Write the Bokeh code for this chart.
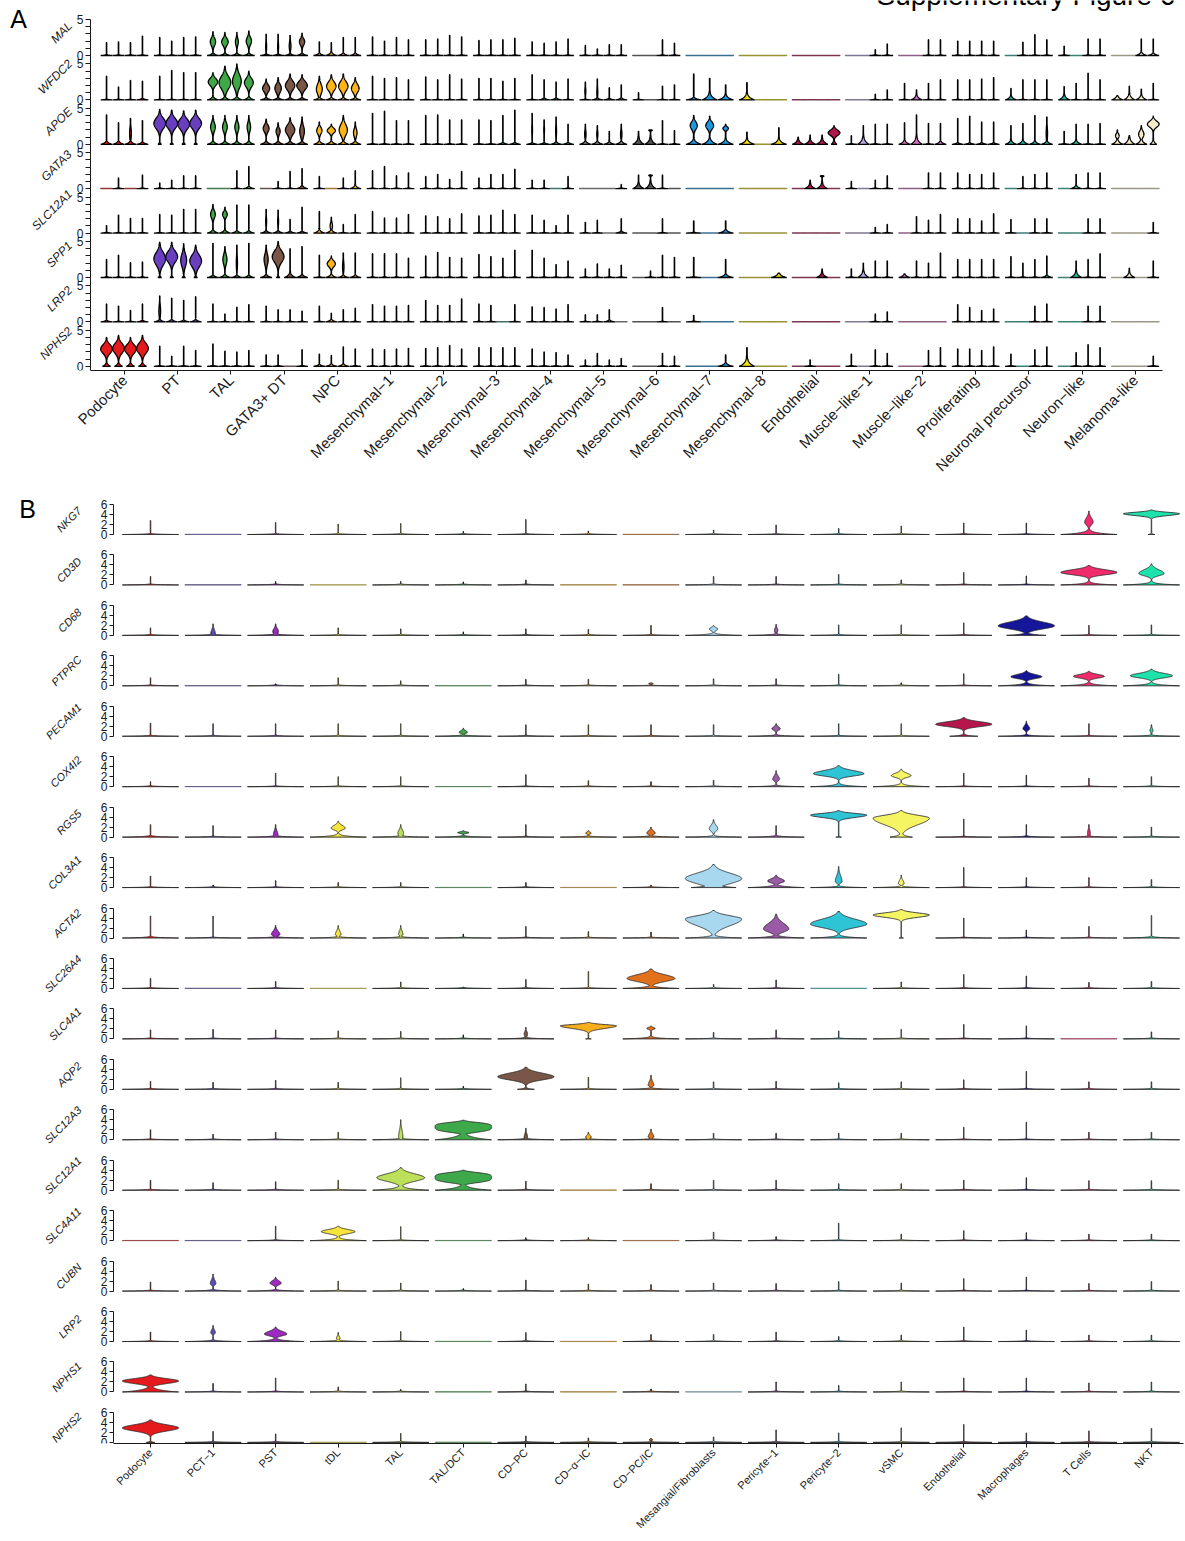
import math
import numpy as np
from bokeh.plotting import figure
from bokeh.layouts import column
from bokeh.models import Range1d, FixedTicker, Label, ColumnDataSource
from bokeh.embed import file_html
from bokeh.resources import INLINE

FONT = "Liberation Sans"
INK = "#1a1a1a"

# ---------------------------------------------------------------------------
# Violin specs: a number is the maximum of a needle-shaped violin (0 = all zero);
# a tuple is (max, body centre, body width, base width, base height,
#             lower spread of body, body exponent)
# ---------------------------------------------------------------------------

# ---------------- Panel A: clusters, one violin per sample ----------------
A_CLUSTERS = ["Podocyte", "PT", "TAL", "GATA3+ DT", "NPC",
              "Mesenchymal\u22121", "Mesenchymal\u22122", "Mesenchymal\u22123",
              "Mesenchymal\u22124", "Mesenchymal\u22125", "Mesenchymal\u22126",
              "Mesenchymal\u22127", "Mesenchymal\u22128", "Endothelial",
              "Muscle\u2212like\u22121", "Muscle\u2212like\u22122", "Proliferating",
              "Neuronal precursor", "Neuron\u2212like", "Melanoma-like"]
A_COLORS = ["#E41A1C", "#6A3FBF", "#3FA846", "#7A5646", "#FDB515",
            "#3B4F86", "#4E5F7A", "#3F8C94", "#2A9D8F", "#8A8A8A",
            "#555555", "#1C98E0", "#F0E010", "#B0174C",
            "#BBA6E2", "#D46FC5", "#5F8A8A", "#23B5A5", "#1FBF9A", "#F6ECC8"]
A_GENES = ["MAL", "WFDC2", "APOE", "GATA3", "SLC12A1", "SPP1", "LRP2", "NPHS2"]

A_MAL = [
    [1.8, 1.9, 1.8, 2.7],
    [2.5, 2.0, 2.5, 2.6],
    [(3.3, 1.9, .45, 1, .15), (3.2, 1.9, .55, 1, .15), (3.2, 1.9, .25, 1, .15), (3.4, 2.0, .45, 1, .15)],
    [(2.95, 1.2, .08, 1, .1), (2.95, 1.2, .08, 1, .1), (2.8, 1.3, .15, 1, .12), (3.1, 1.9, .45, 1, .15)],
    [(1.9, 0, 0, 1, .15), (1.8, 0, 0, 1, .2), (2.5, 0, 0, 1, .15), (2.5, 0, 0, 1, .15)],
    [2.6, 2.0, 2.5, 2.2],
    [2.2, 2.3, 2.8, 2.6],
    [2.1, 2.2, 2.2, 2.4],
    [1.9, 1.7, 1.9, 2.3],
    [1.4, 0.9, 1.5, 1.5],
    [0, 0, 2.2, 1.7],
    [0, 0, 0],
    [0, 0, 0],
    [0, 0, 0, 0],
    [0, 0, 0.8, 1.6],
    [0, 0, 2.2, 2.2],
    [2.0, 2.0, 2.0, 2.0],
    [0, 1.85, 2.9, 2.2],
    [1.3, 0, 2.3, 2.3],
    [0, 0, (2.3, 0, 0, 1, .2), (2.3, 0, 0, 1, .15)],
]
A_WFDC2 = [
    [3.3, 1.8, 2.7, (2.6, 0, 0, 1, .1)],
    [3.3, 4.1, 3.8, 3.8],
    [(3.8, 2.5, .8, 1, .2), (4.7, 2.4, 1, 1, .2), (5.0, 2.6, .75, 1, .2), (4.0, 2.4, .75, 1, .2)],
    [(2.9, 1.6, .6, 1, .15), (3.1, 1.6, .55, 1, .15), (3.6, 2.0, .8, 1, .15), (3.5, 2.0, .9, 1, .15)],
    [(3.3, 1.5, .5, 1, .15), (3.5, 1.9, .8, 1, .15), (3.6, 1.9, .8, 1, .15), (3.1, 1.6, .65, 1, .15)],
    [3.3, 3.0, 3.1, 2.8],
    [3.2, 2.8, 3.5, 2.9],
    [3.0, 3.0, 2.6, 3.0],
    [3.5, (2.8, 0, 0, 1, .12), (2.5, 0, 0, 1, .12), 2.9],
    [(2.5, 1.2, .08), (2.9, 1.0, .08, 1, .12), (1.7, 0, 0, 1, .1), (2.1, 0, 0, 1, .12)],
    [1.0, 0, 1.9, 2.1],
    [(3.6, 0, 0, 1, .15), (3.0, 0, 0, 1, .4), (2.1, 0, 0, 1, .3)],
    [(2.4, 0, 0, 1, .35), 0, 0],
    [0, 0, 0, 0],
    [0, 0, 0.8, 1.4],
    [2.3, (1.4, 0, 0, 1, .3), 2.3, 2.8],
    [2.8, 2.8, 2.9, 3.1],
    [(1.6, 0, 0, 1, .25), 2.8, 2.8, 2.8],
    [(1.85, 0, 0, 1, .3), 2.3, 3.7, 2.8],
    [(0.6, 0, 0, 1, .25), (1.9, 0, 0, 1, .35), (1.5, 0, 0, 1, .3), 2.3],
]
A_APOE = [
    [(4.1, 0, 0, 1, .2), (3.0, 0, 0, 1, .2), (3.6, 1.5, .15, 1, .2), (3.3, 0, 0, 1, .15)],
    [(4.85, 2.9, 1, .3, .2), (4.75, 2.9, 1, .3, .2), (4.65, 2.8, 1, .3, .2), (4.75, 2.9, 1, .3, .2)],
    [(4.0, 2.4, .4, 1, .2), (4.0, 2.4, .4, 1, .2), (4.0, 2.4, .35, 1, .2), (4.0, 2.4, .3, 1, .2)],
    [(3.5, 2.2, .5, 1, .2), (3.0, 1.8, .35, 1, .2), (3.7, 2.0, .8, 1, .2), (3.8, 1.8, .4, 1, .2)],
    [(3.1, 1.9, .45, 1, .2), (2.8, 1.9, .7, 1, .2), (4.0, 2.0, .7, 1, .2), (3.1, 1.6, .3, 1, .2)],
    [4.3, 4.6, 3.3, 3.3],
    [4.0, 4.1, 3.4, 3.4],
    [3.4, 3.3, (4.0, 0, 0, 1, .12), (4.75, 0, 0, 1, .12)],
    [(4.3, 2.0, .06, 1, .1), (3.4, 2.0, .06, 1, .1), (3.8, 1.8, .08, 1, .15), (2.8, 0, 0, 1, .12)],
    [(2.8, 1.4, .12, 1, .2), (2.6, 1.4, .1, 1, .2), (1.8, 0, 0, 1, .15), (2.8, 1.4, .12, 1, .2)],
    [(1.8, 0, 0, 1, .4), (2.0, 1.95, .3, 1, .4, .08), 3.3, 1.9],
    [(4.0, 2.6, .45, 1, .3), (3.9, 2.6, .5, 1, .35), (2.8, 2.2, .35, 1, .3)],
    [(1.7, 0, 0, 1, .3), 0, (2.3, 0, 0, 1, .3)],
    [(1.0, 0, 0, 1, .3), (1.3, 0, 0, 1, .3), (1.3, 0, 0, 1, .35), (2.6, 1.6, 1, .5, .3)],
    [1.2, (2.6, 0, 0, 1, .45), 2.8, 2.8],
    [(3.0, 0, 0, 1, .25), (4.1, 0, 0, 1, .45), 2.9, (2.9, 0, 0, 1, .2)],
    [(3.6, 0, 0, 1, .1), (3.9, 0, 0, 1, .1), (3.1, 0, 0, 1, .1), (3.1, 0, 0, 1, .1)],
    [(2.6, 0, 0, 1, .25), (2.9, 0, 0, 1, .25), (4.0, 0, 0, 1, .2), (3.8, 1.5, .12, 1, .2)],
    [1.8, (2.8, 0, 0, 1, .25), 2.8, 2.9],
    [(2.0, 1.2, .3, 1, .3), (1.2, 0, 0, 1, .4), (2.6, 1.4, .45, 1, .3), (3.9, 2.8, 1, .6, .3)],
]
A_GATA3 = [
    [0, 1.5, 0, 1.9],
    [0.8, 1.2, 1.8, 1.8],
    [0, 0, 2.5, (3.1, 0, 0, 1, .15)],
    [0, 1.0, 2.4, (2.8, 0, 0, 1, .2)],
    [1.7, 0, 1.5, (2.5, 0, 0, 1, .2)],
    [2.5, 3.1, 1.8, 2.2],
    [1.7, 2.0, 1.3, 2.4],
    [1.5, 2.0, 2.0, 2.7],
    [1.2, 1.2, 0, 1.7],
    [0, 0, 0, 0.6],
    [(1.9, 0, 0, 1, .35), (1.9, 1.85, .3, 1, .4, .08), 1.9, 0],
    [0, 0, 0],
    [0, 0, 0],
    [0, (1.2, 0, 0, 1, .3), (1.8, 1.75, .3, 1, .35, .08), 0],
    [1.0, 0, 1.2, 1.8],
    [0, 0, 2.2, 2.2],
    [2.2, 2.0, 2.0, 2.2],
    [0, 1.7, 2.0, 2.2],
    [0, (2.0, 0, 0, 1, .2), 2.2, 2.2],
    [0, 0, 0, 0],
]
A_SLC12A1 = [
    [1.05, 2.5, 2.05, 2.05],
    [2.6, 2.5, 3.3, 3.3],
    [(4.0, 2.6, .4, 1, .2), (3.6, 2.6, .4, 1, .2), (3.9, 0, 0, 1, .15), (3.9, 0, 0, 1, .15)],
    [(3.3, 1.6, .08, 1, .15), (3.2, 1.6, .08, 1, .15), (1.9, 0, 0, 1, .12), (3.6, 0, 0, 1, .12)],
    [(3.0, 0, 0, 1, .2), (2.2, 1.0, .2, 1, .2), 1.2, 2.6],
    [3.0, 2.1, 2.1, 2.6],
    [2.4, 2.3, 2.0, 2.7],
    [2.4, 2.5, 3.2, 2.6],
    [2.5, 1.8, 1.05, 2.5],
    [1.5, 1.8, 0, (2.0, 0, 0, 1, .12)],
    [0, 0, 2.0, 0],
    [1.7, 0, (1.7, 0, 0, 1, .2)],
    [0, 0, 0],
    [0, 0, 0, 0],
    [0, 0, 0.8, 1.2],
    [0, 2.3, 1.8, 2.6],
    [2.0, 2.0, 1.7, 2.7],
    [1.9, 0, 2.0, 2.0],
    [0, 0, 2.0, 2.0],
    [0, 0, 0, 1.5],
]
A_SPP1 = [
    [2.5, 3.1, 2.05, 2.15],
    [(4.9, 2.6, 1, .3, .2), (4.9, 2.9, 1, .3, .2), (4.7, 2.4, .5, .3, .2), (4.5, 2.3, 1, .3, .2)],
    [(4.75, 0, 0, 1, .15), (4.3, 2.5, .35, 1, .2), (4.5, 2.0, .1, 1, .15), (4.75, 0, 0, 1, .15)],
    [(4.5, 2.5, .35, 1, .2), (5.0, 2.9, 1, .3, .2), (4.0, 0, 0, 1, .3), (4.3, 0, 0, 1, .2)],
    [3.1, (3.0, 1.9, .7, 1, .2), (3.4, 1.5, .12, 1, .15), (3.4, 0, 0, 1, .15)],
    [3.3, 3.3, 3.3, 2.7],
    [3.0, 3.5, 2.8, 2.7],
    [3.2, 2.9, 2.7, 3.8],
    [3.8, 2.7, 1.8, 2.3],
    [1.2, 1.9, 1.2, 1.7],
    [0, 0.9, 3.1, 2.8],
    [2.8, 0, (2.5, 0, 0, 1, .2)],
    [0, 0, (0.6, 0, 0, 1, .25)],
    [0, 0, (1.2, 0, 0, 1, .3), 0],
    [1.2, (2.0, 0, 0, 1, .4), 2.3, 2.3],
    [(0.5, 0, 0, 1, .2), 2.3, 2.0, 3.4],
    [2.5, 2.5, 2.5, 2.5],
    [2.9, 2.0, 2.5, (3.0, 0, 0, 1, .15)],
    [0, (2.3, 0, 0, 1, .35), 2.5, 3.3],
    [0, (1.3, 0, 0, 1, .3), 0, 2.3],
]
A_LRP2 = [
    [(2.5, 0, 0, 1, .1), 2.2, 1.6, (2.5, 0, 0, 1, .1)],
    [(3.6, 1.5, .15, 1, .15), (3.3, 0, 0, 1, .15), (3.0, 0, 0, 1, .12), (3.5, 0, 0, 1, .15)],
    [2.5, 1.1, 2.05, 2.4],
    [2.2, 1.7, 1.7, 1.5],
    [2.2, (1.2, 0, 0, 1, .15), 1.7, 1.9],
    [2.4, 2.2, 2.2, 2.3],
    [3.0, 2.3, 2.3, 3.2],
    [2.5, 2.3, 0, 2.4],
    [2.1, 2.0, 1.8, 2.4],
    [1.0, 1.0, (1.7, 0, 0, 1, .12), 0],
    [0, 0, 2.0, 0],
    [0.9, 0, 0],
    [0, 0, 0],
    [0, 0, 0, 0],
    [0, 0, 1.1, 1.4],
    [0, 0, 0, 0],
    [2.4, 2.0, 1.6, 1.8],
    [0, 0, 2.2, 2.5],
    [0, 0, 2.2, 2.2],
    [0, 0, 0, 0],
]
A_NPHS2 = [
    [(4.0, 2.4, 1, .7, .25), (4.3, 2.5, 1, .7, .25), (4.0, 2.4, 1, .7, .25), (4.3, 2.5, 1, .7, .25)],
    [2.8, 1.4, 2.8, 2.2],
    [3.1, 2.1, 2.0, 2.2],
    [1.6, 1.6, 0, 2.3],
    [(1.7, 0, 0, 1, .12), (1.5, 0, 0, 1, .15), (2.7, 0, 0, 1, .15), 2.4],
    [2.4, 2.3, 2.4, 2.5],
    [2.5, 2.6, 2.9, 2.4],
    [2.6, 2.6, 2.6, 2.6],
    [2.4, 2.0, 1.9, 1.6],
    [0.9, 1.8, 0.9, 1.1],
    [0, 0, 1.8, 1.4],
    [0, 0, (1.6, 0, 0, 1, .2)],
    [(2.6, 0, 0, 1, .45), 0, 0],
    [0, 0.9, 0, 0],
    [1.7, 0, 2.3, 1.8],
    [0, 0, 2.2, 2.6],
    [2.4, 2.4, 2.2, 2.7],
    [1.7, 0, 2.3, 2.7],
    [0, 1.9, 3.0, 2.6],
    [0, 0, 0, 1.4],
]
A_ROWS = [A_MAL, A_WFDC2, A_APOE, A_GATA3, A_SLC12A1, A_SPP1, A_LRP2, A_NPHS2]

# ---------------- Panel B: kidney cell types ----------------
B_TYPES = ["Podocyte", "PCT\u22121", "PST", "tDL", "TAL", "TAL/DCT", "CD\u2212PC",
           "CD\u2212\u03b1\u2212IC", "CD\u2212PC/IC", "Mesangial/Fibroblasts",
           "Pericyte\u22121", "Pericyte\u22122", "vSMC", "Endothelial",
           "Macrophages", "T Cells", "NKT"]
B_COLORS = ["#E41A1C", "#5B4FB3", "#9E2BC0", "#F7E53E", "#BDE05A", "#3DA94A",
            "#7A5646", "#F9AE1B", "#E2711E", "#A8D8F0", "#9B5AA5", "#2EC4D6",
            "#F5F462", "#B5164B", "#16169A", "#EF2B6B", "#1DE2AB"]
B_GENES = ["NKG7", "CD3D", "CD68", "PTPRC", "PECAM1", "COX4I2", "RGS5", "COL3A1",
           "ACTA2", "SLC26A4", "SLC4A1", "AQP2", "SLC12A3", "SLC12A1", "SLC4A11",
           "CUBN", "LRP2", "NPHS1", "NPHS2"]

B_NKG7 = [2.8, 0, 2.4, 2.1, 2.2, 0.6, 3.0, 0.7, 0, 0.9, 1.9, 1.2, 1.7, 2.3, 2.3,
          (4.7, 2.5, .15, 1, .3, .6), (4.9, 4.15, 1, .12, .1, .35)]
B_CD3D = [1.7, 0, 0.7, 0, 0.7, 0.6, 1.0, 0, 0, 1.7, 1.7, 2.1, 1.0, 2.5, 1.8,
          (3.9, 2.5, 1, 1, .2, .45), (4.2, 2.3, .45, 1, .2, .45)]
B_CD68 = [1.5, (2.3, 0.4, .08, 1, .08), (2.3, 0.8, .1, 1, .1), 1.5, 1.3, 0.7, 1.3, 1.2, 2.0,
          (2.0, 1.3, .15, 1, .15, .35), (2.2, 1.0, .06, 1, .1), 2.1, 2.1, 2.5,
          (3.9, 1.9, 1, .7, .2, .6), 2.0, 2.1]
B_PTPRC = [1.6, 0, 0.4, 1.6, 1.0, 0, 1.3, 1.3, (0.6, 0.45, .08, 1, .05, .1), 1.4, 1.4, 2.3,
           0.6, 2.4, (3.0, 1.8, .55, 1, .2, .35), (2.9, 1.9, .55, 1, .2, .35),
           (3.3, 2.0, .75, 1, .2, .4)]
B_PECAM1 = [2.6, 2.5, 2.5, 2.5, 2.5, (1.6, 0.8, .15, 1, .1, .2), 2.3, 2.3, 2.3, 2.3,
            (2.5, 1.5, .15, 1, .1, .3), 2.5, 2.5, (3.7, 2.4, 1, .5, .15, .45),
            (3.0, 1.5, .12, 1, .1, .3), 2.5, (2.3, 1.2, .05, 1, .08)]
B_COX4I2 = [1.0, 0, 2.7, 2.0, 2.0, 0, 2.4, 1.2, 1.0, 1.3, (3.2, 1.5, .12, 1, .1, .35),
            (4.2, 2.6, .9, 1, .2, .45), (3.5, 2.2, .35, 1, .2, .35), 2.7, 2.3, 1.7, 2.0]
B_RGS5 = [(2.5, 0, 0, 1, .1), 2.3, (2.5, 0.5, .08, 1, .1), (3.2, 1.8, .25, 1, .2, .35),
          (2.5, 0.8, .1, 1, .1), (1.3, 0.9, .2, 1, .1, .15), 2.5, (1.3, 0.8, .1, 1, .08, .15),
          (2.0, 0.8, .15, 1, .1, .25), (3.5, 1.7, .15, 1, .1, .5), (2.3, 0, 0, 1, .1),
          (5.3, 4.4, 1, .1, .05, .45), (5.3, 3.8, 1, .4, .3, 1.3), 3.6, (2.5, 0, 0, 1, .08),
          (2.5, 0.8, .05, 1, .08), 2.0]
B_COL3A1 = [2.3, 0.5, 1.4, 1.0, 1.0, 0, 1.0, 0, 0.5, (4.6, 1.8, 1, .8, .3, 1.0),
            (2.5, 1.3, .3, 1, .2, .35), (4.2, 1.2, .12, 1, .1, .3), (2.5, 0.8, .1, 1, .1, .2),
            4.0, 2.0, 2.0, 1.6]
B_ACTA2 = [(4.4, 0, 0, 1, .1), 4.4, (2.5, 0.7, .15, 1, .1, .25), (2.5, 0.7, .1, 1, .1, .25),
           (2.5, 0.7, .08, 1, .1, .2), 0.8, 2.3, 1.3, 1.2, (5.5, 3.8, 1, 1, .2, 1.3),
           (4.8, 1.8, .45, 1, .2, .6), (5.3, 2.8, 1, 1, .2, .7), (5.7, 4.6, 1, .08, .05, .45),
           4.0, 1.6, 2.3, (4.5, 0, 0, 1, .1)]
B_SLC26A4 = [2.0, 0, 1.4, 0, 1.3, 0.3, 1.8, 3.4, (3.9, 2.0, .85, 1, .2, .6), 0.8, 1.7, 0,
             1.3, 2.8, 2.5, 1.2, 1.4]
B_SLC4A1 = [1.8, 1.9, 1.8, 1.6, 1.5, 0.8, (2.3, 1.0, .06, 1, .1), (3.3, 2.6, 1, .1, .05, .5),
            (2.6, 2.1, .15, 1, .15, .2), 1.3, 1.8, 1.6, 1.9, 2.9, 2.6, 0, 1.4]
B_AQP2 = [1.6, 1.4, 1.8, 1.4, 2.3, 0.6, (4.4, 2.5, 1, .3, .15, .6), 2.4,
          (2.8, 0.8, .1, 1, .1, .2), 1.5, 1.6, 1.3, 1.5, 1.9, 3.6, 1.5, 1.5]
B_SLC12A3 = [2.0, 1.1, 1.5, 1.5, (4.0, 0.5, .08, 1, .1, .2), (3.9, 2.6, 1, 1, .5, 1.0, 4),
             (2.3, 0.5, .06, 1, .1, .2), (1.5, 0.5, .1, 1, .08, .2), (2.1, 0.6, .1, 1, .08, .2),
             1.3, 1.3, 1.3, 1.3, 2.5, 3.5, 1.5, 1.5]
B_SLC12A1 = [2.0, 1.5, 1.7, 2.0, (4.5, 2.5, .85, 1, .3, .7), (4.0, 2.6, 1, 1, .4, 1.0, 4),
             1.8, 0, 1.3, 2.0, 2.0, 1.3, 1.3, 2.0, 2.5, 1.9, 1.9]
B_SLC4A11 = [0, 0, 2.9, (2.9, 1.8, .6, 1, .2, .4), 2.8, 0, 0.6, 0.6, 0, 1.7, 0.8, 3.5, 1.3,
             2.0, 1.6, 1.3, 1.3]
B_CUBN = [1.8, (3.4, 1.5, .1, 1, .1, .3), (2.8, 1.6, .2, 1, .1, .35), 2.0, 1.6, 0.5, 2.2, 1.4,
          1.3, 1.6, 1.5, 1.9, 1.6, 2.5, 2.8, 1.5, 1.9]
B_LRP2 = [1.9, (3.2, 1.8, .08, 1, .1, .3), (2.9, 1.5, .4, 1, .2, .35), (1.8, 0.6, .06, 1, .1, .2),
          2.0, 0, 1.8, 0, 1.4, 1.4, 1.9, 1.0, 1.3, 2.9, 2.3, 1.3, 1.3]
B_NPHS1 = [(3.4, 2.2, 1, 1, .4, .5), 1.7, 2.8, 1.0, 0.5, 0, 1.6, 0, 0.6, 0, 2.0, 1.3, 2.0,
           2.8, 2.8, 1.8, 2.0]
B_NPHS2 = [(4.5, 2.9, 1, .15, .1, .6), 2.2, 1.7, 0, 1.8, 0, 1.3, 0.9, (0.8, 0.5, .06, 1, .05, .1),
           1.1, 2.5, 1.9, 2.9, 3.6, 1.9, 2.3, 2.8]
B_ROWS = [B_NKG7, B_CD3D, B_CD68, B_PTPRC, B_PECAM1, B_COX4I2, B_RGS5, B_COL3A1, B_ACTA2,
          B_SLC26A4, B_SLC4A1, B_AQP2, B_SLC12A3, B_SLC12A1, B_SLC4A11, B_CUBN, B_LRP2,
          B_NPHS1, B_NPHS2]

# Arial-compatible advance widths (em) used to place the slanted gene names
_W = dict(zip("ABCDEFGHIJKLMNOPQRSTUVWXYZ0123456789",
              [.667, .667, .722, .722, .667, .611, .778, .722, .278, .5, .667, .556, .833,
               .722, .778, .667, .778, .722, .667, .611, .722, .667, .944, .667, .667, .611]
              + [.556] * 10))


def text_width(s, size):
    return sum(_W.get(ch, .6) for ch in s) * size


def mix(c1, c2, f):
    a = [int(c1[i:i + 2], 16) for i in (1, 3, 5)]
    b = [int(c2[i:i + 2], 16) for i in (1, 3, 5)]
    return "#%02x%02x%02x" % tuple(int(round(x * (1 - f) + y * f)) for x, y in zip(a, b))


def violin(xc, half, spec, t0, needle, flat_h):
    """Outline of one width-scaled violin centred at xc."""
    if not isinstance(spec, tuple):
        spec = (spec,)
    h = spec[0]
    c = spec[1] if len(spec) > 1 else 0.0
    w = spec[2] if len(spec) > 2 else 0.0
    b = spec[3] if len(spec) > 3 else 1.0
    t = spec[4] if len(spec) > 4 else t0
    s = spec[5] if len(spec) > 5 else None
    pw = spec[6] if len(spec) > 6 else 2
    if h <= 0:
        return (np.array([xc - half, xc + half, xc + half, xc - half]),
                np.array([0, 0, flat_h, flat_h]), True)
    ys = np.unique(np.concatenate([np.linspace(0, h, 160),
                                   np.linspace(0, min(h, 8 * t), 40)]))
    prof = b * np.exp(-ys / t)
    if w > 0:
        zmax = 7.0 ** (1.0 / pw)
        s_up = max((h - c) / zmax, 0.04)
        s_dn = s if s else s_up
        z = np.where(ys >= c, (ys - c) / s_up, (c - ys) / s_dn)
        prof = np.maximum(prof, w * np.exp(-0.5 * np.abs(z) ** pw))
    prof = np.maximum(prof, needle)
    xs = np.concatenate([xc + half * prof, (xc - half * prof)[::-1]])
    yy = np.concatenate([ys, ys[::-1]])
    return (xs, yy, False)


PAGE_W = 1185


def base_fig(xr, yr, fh, bottom):
    p = figure(x_range=Range1d(*xr), y_range=Range1d(*yr), frame_width=PAGE_W, frame_height=fh,
               min_border_left=0, min_border_right=0, min_border_top=0,
               min_border_bottom=bottom, output_backend="svg", toolbar_location=None, tools="")
    p.outline_line_color = None
    p.xgrid.visible = False
    p.ygrid.visible = False
    p.background_fill_color = "white"
    p.border_fill_color = "white"
    return p


def style_axis(ax, size, tick_out):
    ax.major_tick_out = tick_out
    ax.major_tick_in = 0
    ax.minor_tick_out = 0
    ax.minor_tick_in = 0
    ax.axis_line_color = INK
    ax.major_tick_line_color = INK
    ax.axis_line_width = 1
    ax.major_label_text_font = FONT
    ax.major_label_text_font_size = size
    ax.major_label_text_color = INK


figs = []

# ---------------- Panel A: one stacked plot, each gene row shifted down ----------------
A_C0, A_PITCH = 124.0, 53.2          # first cluster centre, cluster spacing (px)
A_AXIS_PX, A_END_PX = 90.0, 1162.0   # y-axis position, end of x-axis line
A_PPU_Y = 7.2                        # px per expression unit
A_ROW_PX = 44.4                      # row spacing (px)
A_TOP_ZERO = 55.0                    # page y of the first row's zero line
A_FRAME_H = 370
A_BOTTOM = 121
A_XR = (-A_C0 / A_PITCH, (PAGE_W - A_C0) / A_PITCH)
A_YR = ((A_TOP_ZERO - A_FRAME_H) / A_PPU_Y, A_TOP_ZERO / A_PPU_Y)
A_OFF = [-round(r * A_ROW_PX / A_PPU_Y, 4) for r in range(len(A_GENES))]


def ax_a(px):
    return (px - A_C0) / A_PITCH


pa = base_fig(A_XR, A_YR, A_FRAME_H, A_BOTTOM)
xs, ys, fills, lines = [], [], [], []
for r, row in enumerate(A_ROWS):
    off = A_OFF[r]
    for i, group in enumerate(row):
        n = len(group)
        slot = 0.9 / n
        for k, spec in enumerate(group):
            xc = i - 0.45 + (k + 0.5) * slot
            vx, vy, flat = violin(xc, slot / 2 * 0.98, spec, 0.05, 0.03, 0.03)
            xs.append(vx.tolist())
            ys.append((vy + off).tolist())
            fills.append(A_COLORS[i])
            lines.append(mix(A_COLORS[i], "#505050", 0.55) if flat else "#000000")
pa.patches("xs", "ys", source=ColumnDataSource(dict(xs=xs, ys=ys, fill=fills, line=lines)),
           fill_color="fill", line_color="line", line_width=1.3)

ticks, labels = [], {}
for off in A_OFF:
    for v in range(6):
        t = round(off + v, 4)
        ticks.append(t)
        labels[t] = "0" if v == 0 else ("5" if v == 5 else "")
ay = pa.yaxis[0]
ay.fixed_location = ax_a(A_AXIS_PX)
ay.ticker = FixedTicker(ticks=ticks)
ay.major_label_overrides = labels
ay.major_label_standoff = 2
ay.bounds = (A_YR[0], 5)
style_axis(ay, "12px", 5)

xa = pa.xaxis[0]
xa.ticker = FixedTicker(ticks=list(range(len(A_CLUSTERS))))
xa.major_label_overrides = {i: nm for i, nm in enumerate(A_CLUSTERS)}
xa.major_label_orientation = math.pi / 4
xa.major_label_standoff = 3
xa.bounds = (ax_a(A_AXIS_PX), ax_a(A_END_PX))
style_axis(xa, "15px", 4)

for r, gene in enumerate(A_GENES):
    fs = 12
    span = (text_width(gene, fs) + fs) * 0.7071
    cpx = 74 - span / 2
    pa.add_layout(Label(x=ax_a(cpx), y=A_OFF[r] + 2.5 + 5.0 / A_PPU_Y, text=gene, angle=45,
                        angle_units="deg", text_align="center", text_baseline="middle",
                        text_font=FONT, text_font_style="italic",
                        text_font_size="%dpx" % fs, text_color=INK))
pa.add_layout(Label(x=ax_a(18), y=(A_TOP_ZERO - 18) / A_PPU_Y, text="A",
                    text_align="center", text_baseline="middle",
                    text_font=FONT, text_font_size="25px", text_color="#000000"))
pa.add_layout(Label(x=ax_a(876), y=(A_TOP_ZERO + 5) / A_PPU_Y,
                    text="Supplementary Figure 6", text_align="left",
                    text_baseline="alphabetic", text_font=FONT,
                    text_font_size="28px", text_color="#000000"))
figs.append(pa)

# ---------------- Panel B: one plot per gene ----------------
B_C0, B_PITCH_X = 150.0, 62.56
B_AXIS_PX, B_END_PX = 113.0, 1183.0
B_PPU_Y = 5.0
B_ZERO = [534 + 50.44 * r for r in range(len(B_GENES))]
B_CUTS = [A_FRAME_H + A_BOTTOM] + [int(round(z + 10)) for z in B_ZERO[:-1]] + \
         [int(round(B_ZERO[-1] + 1))]
B_BOTTOM = 1541 - B_CUTS[-1]
B_XR = (-B_C0 / B_PITCH_X, (PAGE_W - B_C0) / B_PITCH_X)


def bx(px):
    return (px - B_C0) / B_PITCH_X


for r, (gene, row) in enumerate(zip(B_GENES, B_ROWS)):
    top, bot = B_CUTS[r], B_CUTS[r + 1]
    fh = bot - top
    z = B_ZERO[r]
    yr = (-(bot - z) / B_PPU_Y, (z - top) / B_PPU_Y)
    last = r == len(B_GENES) - 1
    p = base_fig(B_XR, yr, fh, B_BOTTOM if last else 0)

    xs, ys, fills, lines = [], [], [], []
    for j, spec in enumerate(row):
        vx, vy, flat = violin(j, 0.45, spec, 0.06, 0.008, 0.04)
        xs.append(vx.tolist())
        ys.append(vy.tolist())
        fills.append(B_COLORS[j])
        lines.append(mix(B_COLORS[j], "#6a6a6a", 0.6) if flat else "#2b2b2b")
    p.patches("xs", "ys", source=ColumnDataSource(dict(xs=xs, ys=ys, fill=fills, line=lines)),
              fill_color="fill", line_color="line", line_width=0.9)

    ax = p.yaxis[0]
    ax.fixed_location = bx(B_AXIS_PX)
    ax.ticker = FixedTicker(ticks=[0, 2, 4, 6])
    ax.bounds = (0, 6)
    ax.major_label_standoff = 2
    style_axis(ax, "12px", 4)

    if last:
        xb = p.xaxis[0]
        xb.ticker = FixedTicker(ticks=list(range(len(B_TYPES))))
        xb.major_label_overrides = {i: nm for i, nm in enumerate(B_TYPES)}
        xb.major_label_orientation = math.pi / 4
        xb.major_label_standoff = 3
        xb.bounds = (bx(B_AXIS_PX), bx(B_END_PX))
        style_axis(xb, "11px", 4)
    else:
        p.xaxis.visible = False

    fs = 11
    cpx = 83 - (text_width(gene, fs) + fs) * 0.3536
    p.add_layout(Label(x=bx(cpx), y=3.0, text=gene, angle=45, angle_units="deg",
                       text_align="center", text_baseline="middle", text_font=FONT,
                       text_font_style="italic", text_font_size="%dpx" % fs, text_color=INK))
    if r == 0:
        p.add_layout(Label(x=bx(27), y=(z - 508) / B_PPU_Y, text="B",
                           text_align="center", text_baseline="middle",
                           text_font=FONT, text_font_size="25px", text_color="#000000"))
    figs.append(p)

layout = column(*figs, spacing=0)
open("out.html", "w").write(file_html(layout, INLINE))
